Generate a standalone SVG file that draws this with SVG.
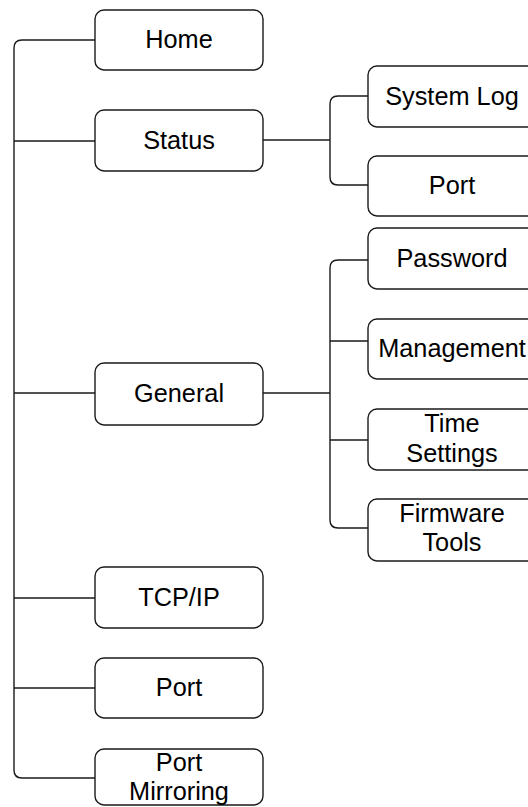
<svg xmlns="http://www.w3.org/2000/svg" width="528" height="807" viewBox="0 0 528 807">
<style>
.box{fill:#fff;stroke:#1a1a1a;stroke-width:1.4}
.c{fill:none;stroke:#1a1a1a;stroke-width:1.4}
text{font-family:"Liberation Sans",Arial,sans-serif;font-size:25.3px;fill:#000;text-anchor:middle}
</style>
<rect width="528" height="807" fill="#fff"/>
<g id="connectors">
<path class="c" d="M95,40 H22 Q14,40 14,48 V770 Q14,778 22,778 H95"/>
<path class="c" d="M14,141 H95 M14,393 H95 M14,598 H95 M14,688 H95"/>
<path class="c" d="M263,140 H330"/>
<path class="c" d="M368,96 H338 Q330,96 330,104 V177 Q330,185 338,185 H368"/>
<path class="c" d="M263,393 H330"/>
<path class="c" d="M368,260 H338 Q330,260 330,268 V520 Q330,528 338,528 H368"/>
<path class="c" d="M330,341 H368 M330,440 H368"/>
</g>
<g id="home"><rect class="box" x="95" y="10" width="168" height="60" rx="9"/><text x="179" y="48">Home</text></g>
<g id="status"><rect class="box" x="95" y="110" width="168" height="61" rx="9"/><text x="179" y="149">Status</text></g>
<g id="general"><rect class="box" x="95" y="363" width="168" height="62" rx="9"/><text x="179" y="402">General</text></g>
<g id="tcpip"><rect class="box" x="95" y="567" width="168" height="61" rx="9"/><text x="179" y="606">TCP/IP</text></g>
<g id="port-main"><rect class="box" x="95" y="658" width="168" height="60" rx="9"/><text x="179" y="696">Port</text></g>
<g id="port-mirroring"><rect class="box" x="95" y="749" width="168" height="56" rx="9"/><text x="179" y="771">Port</text><text x="179" y="800">Mirroring</text></g>
<g id="system-log"><rect class="box" x="368" y="66" width="168" height="61" rx="9"/><text x="452" y="105">System Log</text></g>
<g id="port-status"><rect class="box" x="368" y="156" width="168" height="60" rx="9"/><text x="452" y="194">Port</text></g>
<g id="password"><rect class="box" x="368" y="228" width="168" height="61" rx="9"/><text x="452" y="267">Password</text></g>
<g id="management"><rect class="box" x="368" y="319" width="168" height="60" rx="9"/><text x="452" y="357">Management</text></g>
<g id="time-settings"><rect class="box" x="368" y="409" width="168" height="61" rx="9"/><text x="452" y="432">Time</text><text x="452" y="462">Settings</text></g>
<g id="firmware-tools"><rect class="box" x="368" y="499" width="168" height="62" rx="9"/><text x="452" y="522">Firmware</text><text x="452" y="551">Tools</text></g>
</svg>
